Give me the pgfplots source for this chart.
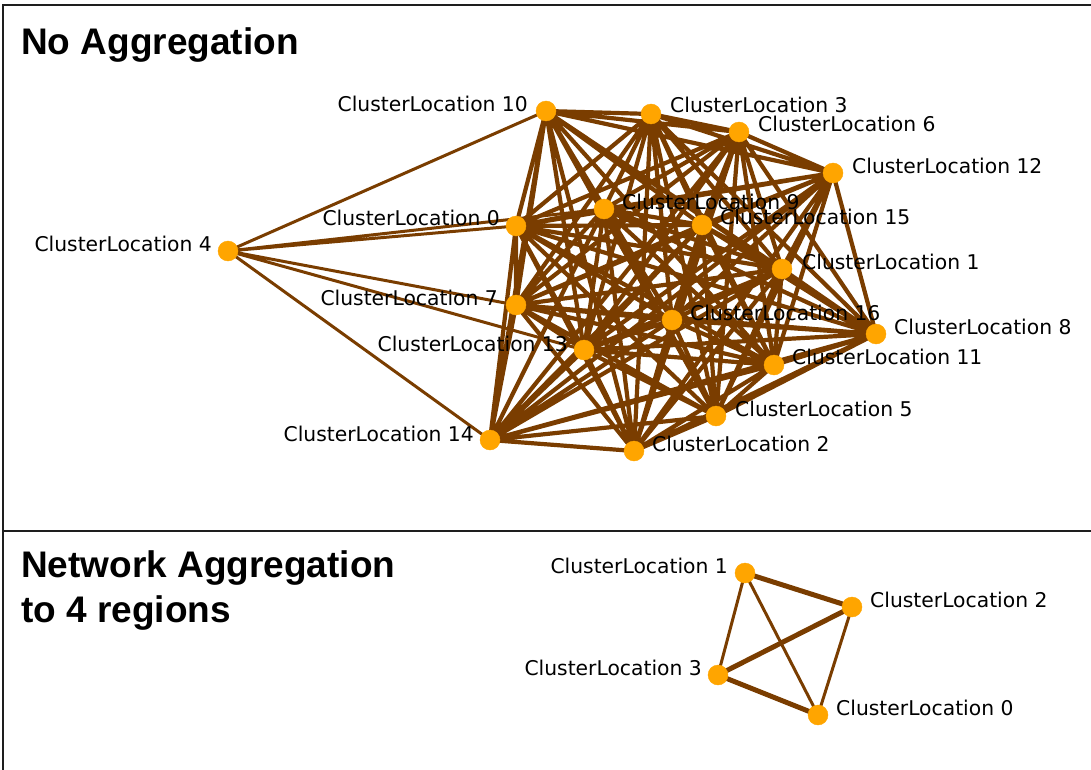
\documentclass[border=0pt]{standalone}
\usepackage{pgfplots}
\pgfplotsset{compat=1.18}
\usepackage{fontspec}
\setmainfont{DejaVu Sans}
\newfontfamily\titlefont{Liberation Sans}
\definecolor{edgec}{RGB}{122,61,0}
\definecolor{nodec}{RGB}{255,165,0}
\definecolor{framec}{RGB}{30,30,30}

% node positions (pixels, y downwards) of the 16 densely linked locations
% 10, 3, 6, 12, 0, 9, 15, 1, 7, 16, 8, 13, 11, 5, 14, 2
\def\PX{{546,651,739,833,516,604,702,782,516,672,876,584,774,716,490,634}}
\def\PY{{111,114,132,173,226,209,225,269,305,320,334,350,365,416,440,451}}

\tikzset{lab/.style={inner sep=0pt, font=\fontsize{20.3}{24}\selectfont},
  ttl/.style={inner sep=0pt, anchor=base west, font=\titlefont\bfseries\fontsize{37}{45}\selectfont}}

\begin{document}
\begin{tikzpicture}
\gdef\edgelist{}
\foreach \i in {0,...,14}{
  \pgfmathtruncatemacro\js{\i+1}
  \foreach \j in {\js,...,15}{
    \pgfmathtruncatemacro\xa{\PX[\i]}
    \pgfmathtruncatemacro\ya{\PY[\i]}
    \pgfmathtruncatemacro\xb{\PX[\j]}
    \pgfmathtruncatemacro\yb{\PY[\j]}
    \xdef\edgelist{\edgelist (\xa,\ya) (\xb,\yb) (nan,nan)}
  }
}
\begin{axis}[width=1091pt,height=770pt,scale only axis,
  xmin=0,xmax=1091,ymin=0,ymax=770,y dir=reverse,
  hide axis,clip=false,unbounded coords=jump]
% frame
\addplot[framec, line width=2.5pt] coordinates {(3,770) (3,5) (1091,5)};
\addplot[framec, line width=2.5pt] coordinates {(3,531) (1091,531)};
% dense edges
\edef\temp{\noexpand\addplot[edgec, line width=4.2pt] coordinates {\edgelist};}\temp
% edges of location 4
\addplot[edgec, line width=3pt] coordinates {
(228,251) (546,111) (nan,nan)
(228,251) (516,226) (nan,nan)
(228,251) (604,209) (nan,nan)
(228,251) (516,305) (nan,nan)
(228,251) (584,350) (nan,nan)
(228,251) (490,440)};
% bottom panel edges
\addplot[edgec, line width=5pt] coordinates {
(745,573) (852,607) (nan,nan)
(852,607) (718,675) (nan,nan)
(718,675) (818,715)};
\addplot[edgec, line width=3pt] coordinates {
(745,573) (718,675) (nan,nan)
(745,573) (818,715) (nan,nan)
(852,607) (818,715)};
% nodes
\addplot[nodec, only marks, mark=*, mark size=10pt, mark options={draw=nodec, fill=nodec}] coordinates {
(546,111) (651,114) (739,132) (833,173) (516,226) (604,209) (702,225) (782,269)
(516,305) (672,320) (876,334) (584,350) (774,365) (716,416) (490,440) (634,451)
(228,251)
(745,573) (852,607) (718,675) (818,715)};
% labels top
\node[lab, anchor=east] at (axis cs:528,104) {ClusterLocation 10};
\node[lab, anchor=west] at (axis cs:670,105) {ClusterLocation 3};
\node[lab, anchor=west] at (axis cs:758,124) {ClusterLocation 6};
\node[lab, anchor=west] at (axis cs:852,166) {ClusterLocation 12};
\node[lab, anchor=east] at (axis cs:212,244) {ClusterLocation 4};
\node[lab, anchor=east] at (axis cs:500,218) {ClusterLocation 0};
\node[lab, anchor=west] at (axis cs:622,202) {ClusterLocation 9};
\node[lab, anchor=west] at (axis cs:720,217) {ClusterLocation 15};
\node[lab, anchor=west] at (axis cs:802,262) {ClusterLocation 1};
\node[lab, anchor=east] at (axis cs:498,298) {ClusterLocation 7};
\node[lab, anchor=west] at (axis cs:690,313) {ClusterLocation 16};
\node[lab, anchor=west] at (axis cs:894,327) {ClusterLocation 8};
\node[lab, anchor=east] at (axis cs:568,344) {ClusterLocation 13};
\node[lab, anchor=west] at (axis cs:792,357) {ClusterLocation 11};
\node[lab, anchor=west] at (axis cs:735,409) {ClusterLocation 5};
\node[lab, anchor=east] at (axis cs:474,434) {ClusterLocation 14};
\node[lab, anchor=west] at (axis cs:652,444) {ClusterLocation 2};
% labels bottom
\node[lab, anchor=east] at (axis cs:728,566) {ClusterLocation 1};
\node[lab, anchor=west] at (axis cs:870,600) {ClusterLocation 2};
\node[lab, anchor=east] at (axis cs:702,668) {ClusterLocation 3};
\node[lab, anchor=west] at (axis cs:836,708) {ClusterLocation 0};
% titles
\node[ttl] at (axis cs:21,55) {No Aggregation};
\node[ttl] at (axis cs:21,577) {Network Aggregation};
\node[ttl] at (axis cs:21,622) {to 4 regions};
\end{axis}
\pgfresetboundingbox
\path (0,0) rectangle (1091pt,770pt);
\end{tikzpicture}
\end{document}
